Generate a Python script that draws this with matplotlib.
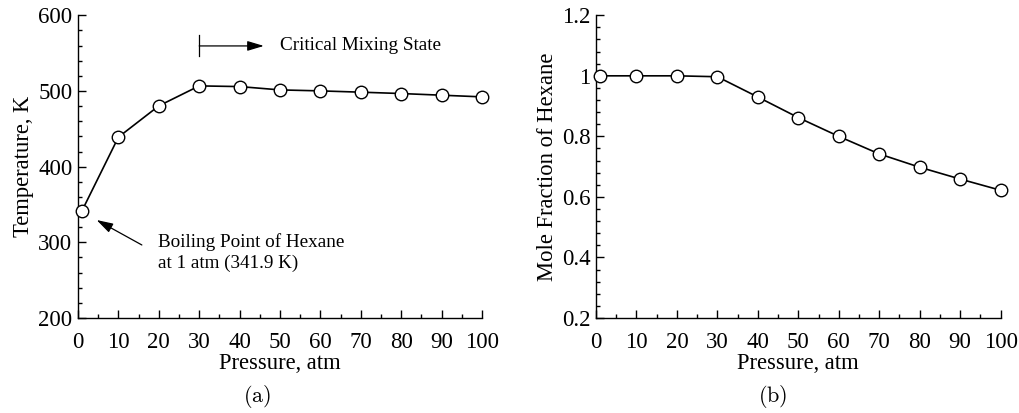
import matplotlib
matplotlib.use("Agg")
import matplotlib.pyplot as plt
from matplotlib.ticker import MultipleLocator

# Pressure (atm) and measured values
pressure = [1, 10, 20, 30, 40, 50, 60, 70, 80, 90, 100]
temperature = [341.9, 439.0, 480.3, 506.7, 505.8, 501.4, 500.1, 498.4, 496.6, 494.4, 492.2]
mole_fraction = [1.0, 1.0, 1.0, 0.997, 0.930, 0.862, 0.800, 0.742, 0.698, 0.659, 0.622]

x_ticks = [0, 10, 20, 30, 40, 50, 60, 70, 80, 90, 100]
temp_ticks = [200, 300, 400, 500, 600]
frac_ticks = [0.2, 0.4, 0.6, 0.8, 1.0, 1.2]
frac_tick_labels = ["0.2", "0.4", "0.6", "0.8", "1", "1.2"]

plt.rcParams["font.family"] = ["Liberation Serif", "DejaVu Serif"]
plt.rcParams["mathtext.fontset"] = "cm"

fig = plt.figure(figsize=(10.2, 4.13), dpi=100)
ax1 = fig.add_axes([0.0765, 0.230, 0.396, 0.733])
ax2 = fig.add_axes([0.5843, 0.230, 0.3967, 0.733])

TICK_FS = 16.5
LABEL_FS = 16.3


def style_axes(ax):
    for side in ("top", "right"):
        ax.spines[side].set_visible(False)
    for side in ("left", "bottom"):
        ax.spines[side].set_linewidth(1.0)
    ax.tick_params(which="both", direction="in", width=1.0, labelsize=TICK_FS)
    ax.tick_params(axis="x", which="major", pad=10)
    ax.tick_params(axis="y", which="major", pad=4)
    ax.tick_params(which="major", length=6)
    ax.tick_params(which="minor", length=3)
    ax.set_xlim(0, 100)
    ax.set_xticks(x_ticks)
    ax.xaxis.set_minor_locator(MultipleLocator(5))
    ax.set_xlabel("Pressure, atm", fontsize=LABEL_FS, labelpad=0)


marker_kw = dict(color="black", linewidth=1.2, marker="o", markersize=9,
                 markerfacecolor="white", markeredgecolor="black",
                 markeredgewidth=1.0, clip_on=False, zorder=3)

# (a) temperature vs pressure
style_axes(ax1)
ax1.plot(pressure, temperature, **marker_kw)
ax1.set_ylim(200, 600)
ax1.set_yticks(temp_ticks)
ax1.yaxis.set_minor_locator(MultipleLocator(20))
ax1.set_ylabel("Temperature, K", fontsize=LABEL_FS, labelpad=3)

ax1.plot([30, 30], [546, 574], color="black", linewidth=0.9)
ax1.annotate("", xy=(46, 559.5), xytext=(30, 559.5),
             arrowprops=dict(arrowstyle="-|>,head_length=1.0,head_width=0.3",
                             color="black", lw=0.9, shrinkA=0, shrinkB=0))
ax1.text(50, 559.5, "Critical Mixing State", fontsize=13.8, va="center", ha="left")

ax1.annotate("", xy=(4.6, 329.5), xytext=(15.8, 296.5),
             arrowprops=dict(arrowstyle="-|>,head_length=1.0,head_width=0.3",
                             color="black", lw=0.9, shrinkA=0, shrinkB=0))
ax1.text(19.9, 300.4, "Boiling Point of Hexane", fontsize=13.8, va="center", ha="left")
ax1.text(19.9, 272.6, "at 1 atm (341.9 K)", fontsize=13.8, va="center", ha="left")

# (b) mole fraction vs pressure
style_axes(ax2)
ax2.plot(pressure, mole_fraction, **marker_kw)
ax2.set_ylim(0.2, 1.2)
ax2.set_yticks(frac_ticks)
ax2.set_yticklabels(frac_tick_labels)
ax2.yaxis.set_minor_locator(MultipleLocator(0.04))
ax2.set_ylabel("Mole Fraction of Hexane", fontsize=LABEL_FS, labelpad=3)

fig.text(257 / 1020, 1 - 397 / 413, r"$\mathrm{(a)}$", fontsize=16, ha="center", va="center")
fig.text(773 / 1020, 1 - 397 / 413, r"$\mathrm{(b)}$", fontsize=16, ha="center", va="center")

fig.savefig("out.png", dpi=100)
